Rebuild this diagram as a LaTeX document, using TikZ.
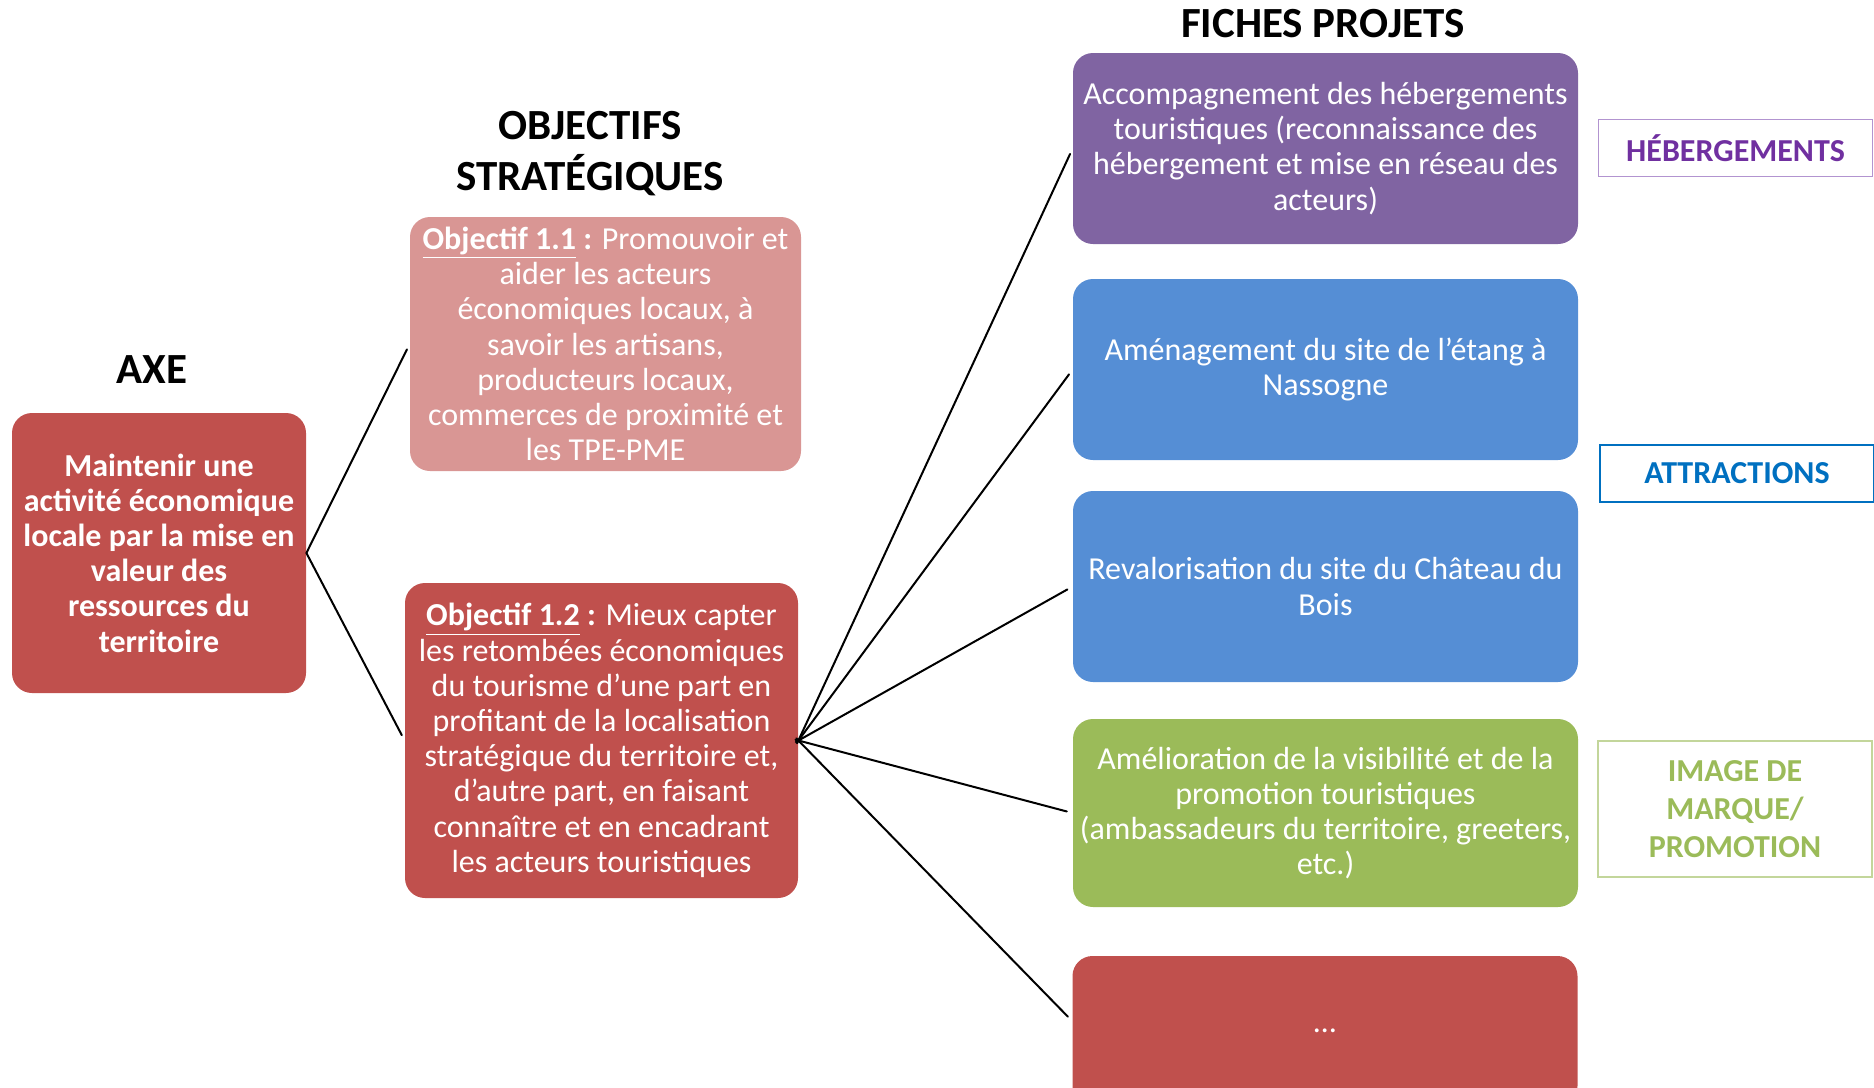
\documentclass[tikz,border=0pt]{standalone}
\usepackage{fontspec}
\setmainfont{Carlito}
\definecolor{rougeAxe}{HTML}{C0504D}
\definecolor{roseObj}{HTML}{D99694}
\definecolor{violetHeb}{HTML}{8064A2}
\definecolor{bleuAttr}{HTML}{558ED5}
\definecolor{vertPromo}{HTML}{9BBB59}
\definecolor{txtViolet}{HTML}{7030A0}
\definecolor{bordViolet}{HTML}{B294D0}
\definecolor{txtBleu}{HTML}{0070C0}
\definecolor{bordVert}{HTML}{C3D69B}
\tikzset{
  boite/.style={rounded corners=10pt, inner sep=0pt, align=center, text=white,
    font=\fontsize{16}{17.6}\selectfont},
  fiche/.style={boite, minimum width=252.5pt},
  titre/.style={font=\fontsize{21.5}{25.5}\selectfont\bfseries, align=center},
  etiquette/.style={draw, inner sep=0pt, align=center,
    font=\fontsize{16}{19}\selectfont\bfseries, minimum width=137pt},
  lien/.style={line width=1pt, line cap=round}
}
\begin{document}
\begin{tikzpicture}[x=0.5pt, y=-0.5pt]
			%Cadre de la page
			\clip (0,0) rectangle (1874,1087);
			%Titres des colonnes
			\node[titre] (tAxe) at (152,370) {AXE};
			\node[titre] (tObj) at (590,154) {OBJECTIFS\\STRATÉGIQUES};
			\node[titre] (tFiche) at (1323,24) {FICHES PROJETS};
			%Axe
			\node[boite, fill=rougeAxe, font=\fontsize{16}{17.6}\selectfont\bfseries,
				minimum width=147pt, minimum height=140pt] (axe) at (159,553)
				{Maintenir une\\activité économique\\locale par la mise en\\valeur des\\ressources du\\territoire};
			%Objectifs stratégiques
			\node[boite, fill=roseObj, minimum width=195.5pt, minimum height=127pt] (obj11) at (605.5,344)
				{\textbf{\underline{Objectif 1.1} :} Promouvoir et\\aider les acteurs\\économiques locaux, à\\savoir les artisans,\\producteurs locaux,\\commerces de proximité et\\les TPE-PME};
			\node[boite, fill=rougeAxe, minimum width=196.5pt, minimum height=157.5pt] (obj12) at (601.5,740.5)
				{\textbf{\underline{Objectif 1.2} :} Mieux capter\\les retombées économiques\\du tourisme d’une part en\\profitant de la localisation\\stratégique du territoire et,\\d’autre part, en faisant\\connaître et en encadrant\\les acteurs touristiques};
			%Fiches projets
			\node[fiche, fill=violetHeb, minimum height=95.5pt] (p1) at (1325.5,148.5)
				{Accompagnement des hébergements\\touristiques (reconnaissance des\\hébergement et mise en réseau des\\acteurs)};
			\node[fiche, fill=bleuAttr, minimum height=90.5pt] (p2) at (1325.5,369.5)
				{Aménagement du site de l’étang à\\Nassogne};
			\node[fiche, fill=bleuAttr, minimum height=95.5pt] (p3) at (1325.5,586.5)
				{Revalorisation du site du Château du\\Bois};
			\node[fiche, fill=vertPromo, minimum height=94pt] (p4) at (1325.5,813)
				{Amélioration de la visibilité et de la\\promotion touristiques\\(ambassadeurs du territoire, greeters,\\etc.)};
			\node[fiche, fill=rougeAxe, minimum height=75pt] (p5) at (1325,1031) {…};
			%Etiquettes des thèmes
			\node[etiquette, draw=bordViolet, text=txtViolet, line width=0.6pt, minimum height=28.5pt] (heb) at (1735.5,148) {HÉBERGEMENTS};
			\node[etiquette, draw=txtBleu, text=txtBleu, line width=1pt, minimum height=28.5pt] (attr) at (1737,473.5) {ATTRACTIONS};
			\node[etiquette, draw=bordVert, text=vertPromo, line width=1pt, minimum height=68pt] (promo) at (1735,809) {IMAGE DE\\MARQUE/\\PROMOTION};
			%Liens
			\foreach \o in {obj11,obj12}
				\draw[lien, shorten >=3pt] (axe.east) -- (\o.west);
			\foreach \p in {p1,p2,p3,p4}
				\draw[lien, shorten >=3pt, shorten <=-1.5pt] (obj12.east) -- (\p.west);
			\draw[lien, shorten >=3pt, shorten <=-1.5pt] (obj12.east) -- ([yshift=5pt]p5.west);
		\end{tikzpicture}
\end{document}
